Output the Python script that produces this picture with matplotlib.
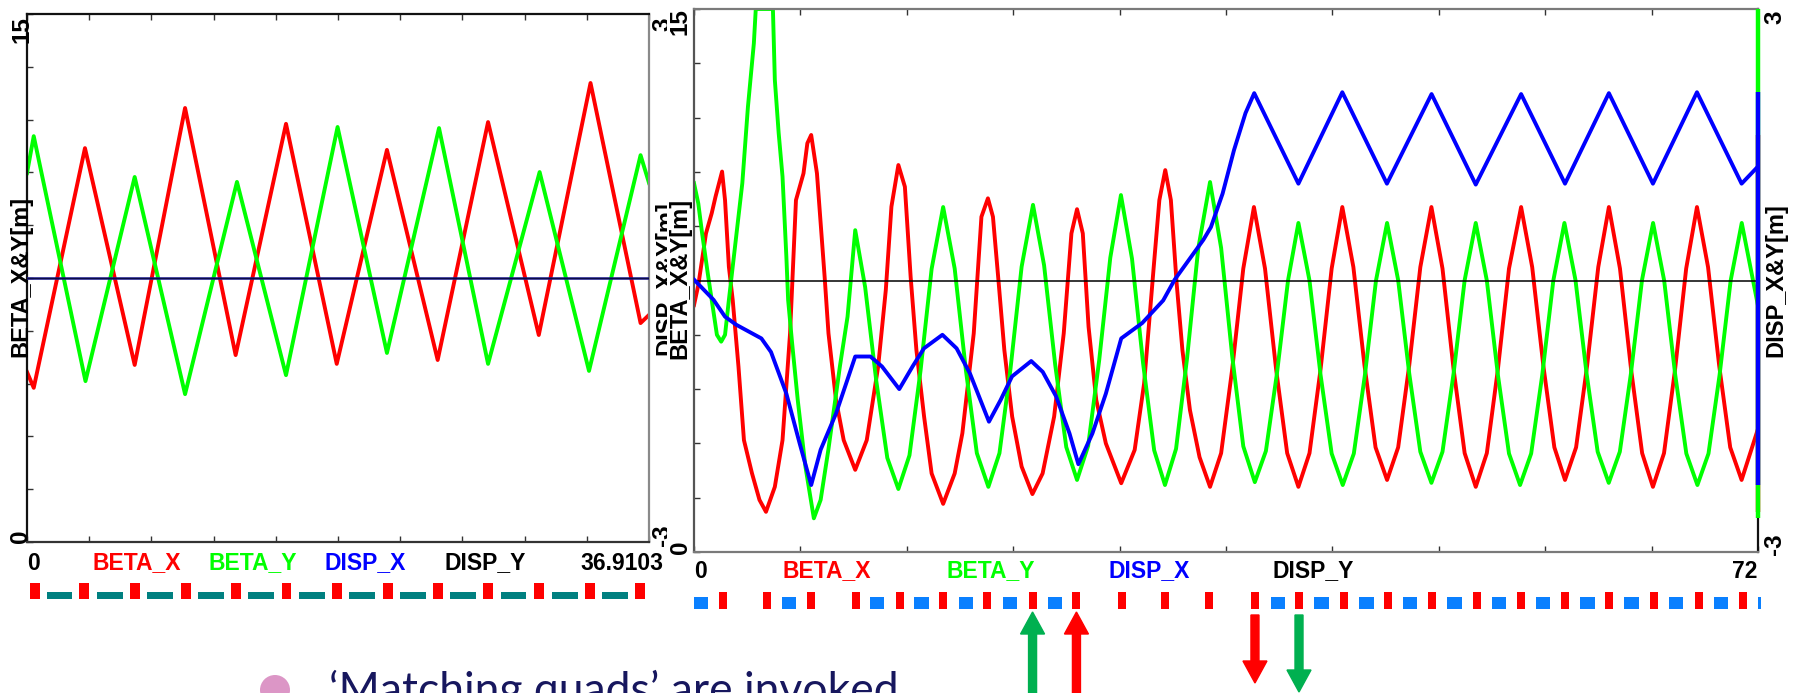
import numpy as np
import matplotlib
matplotlib.use("Agg")
import matplotlib.pyplot as plt
from matplotlib.patches import FancyArrow, Circle, Rectangle
from matplotlib.transforms import IdentityTransform

# ======================= DATA =======================
# ---- left panel: periodic cell ----
left_s_max = 36.9103
left_betax_s = [0.0, 0.4, 3.44, 6.39, 9.38, 12.38, 15.37, 18.38, 21.36, 24.37, 27.36, 30.37, 33.44, 36.41, 36.91]
left_betax = [4.83, 4.38, 11.19, 5.03, 12.33, 5.31, 11.88, 5.06, 11.14, 5.17, 11.93, 5.88, 13.04, 6.22, 6.45]
left_betay_s = [0.0, 0.4, 3.47, 6.39, 9.38, 12.46, 15.37, 18.43, 21.36, 24.45, 27.36, 30.42, 33.35, 36.41, 36.91]
left_betay = [10.48, 11.53, 4.57, 10.37, 4.20, 10.23, 4.74, 11.79, 5.37, 11.76, 5.06, 10.51, 4.86, 10.99, 10.20]
left_disp_s = [0.0, 36.91]
left_dispx = [0.0, 0.0]
left_dispy = [0.0, 0.0]
left_quads = [0.47, 3.41, 6.39, 9.43, 12.40, 15.40, 18.40, 21.42, 24.39, 27.36, 30.38, 33.41, 36.38]
left_bends = [1.93, 4.92, 7.90, 10.92, 13.90, 16.90, 19.90, 22.90, 25.88, 28.87, 31.90, 34.90]

# ---- right panel: matching section ----
right_s_max = 72.0
right_betax_s = [0.0, 0.29, 0.81, 1.20, 1.46, 1.90, 2.10, 2.36, 2.62, 3.01, 3.38, 3.92, 4.43, 4.87,
                 5.47, 5.99, 6.50, 6.90, 7.41, 7.67, 7.93, 8.32, 8.84, 9.10, 9.61, 10.13, 10.91,
                 11.69, 12.46, 12.98, 13.36, 13.83, 14.27, 14.66, 15.05, 15.57, 16.08, 16.86,
                 17.64, 18.16, 18.93, 19.45, 19.89, 20.23, 20.62, 21.00, 21.53, 22.17, 22.90,
                 23.59, 24.37, 25.02, 25.54, 25.92, 26.31, 26.70, 27.22, 27.87, 28.91,
                 29.82, 30.46, 31.11, 31.49, 31.89, 32.27, 32.66, 33.05, 33.56, 34.21, 34.92,
                 35.67, 36.42, 37.17, 37.89, 38.64, 39.39, 40.14, 40.90, 41.65, 42.40, 43.15, 43.87,
                 44.62, 45.37, 46.12, 46.90, 47.65, 48.40, 49.15, 49.90, 50.65, 51.40, 52.15, 52.90,
                 53.65, 54.40, 55.15, 55.97, 56.72, 57.47, 58.22, 58.94, 59.69, 60.44, 61.19, 61.91,
                 62.66, 63.41, 64.16, 64.89, 65.64, 66.39, 67.14, 67.87, 68.62, 69.37, 70.12, 70.89, 72.0]
right_betax = [6.82, 7.37, 8.80, 9.36, 9.82, 10.51, 9.72, 7.88, 6.96, 5.12, 3.09, 2.18, 1.44, 1.11,
               1.80, 3.09, 6.04, 9.72, 10.46, 11.29, 11.52, 10.46, 7.60, 6.04, 4.20, 3.09, 2.27,
               3.09, 5.12, 7.24, 9.54, 10.69, 10.09, 7.60, 5.58, 3.74, 2.17, 1.33,
               2.17, 3.28, 6.04, 9.26, 9.77, 9.26, 7.42, 5.58, 3.74, 2.36, 1.60,
               2.17, 3.74, 6.04, 8.80, 9.47, 8.80, 6.22, 4.20, 3.00, 1.90,
               2.82, 4.66, 7.88, 9.72, 10.55, 9.72, 7.42, 5.58, 3.92, 2.62, 1.80,
               2.73, 5.05, 7.83, 9.53, 7.83, 5.05, 2.73, 1.80, 2.73, 5.05, 7.83, 9.53,
               7.87, 5.16, 2.89, 1.99, 2.89, 5.16, 7.87, 9.53, 7.83, 5.05, 2.73, 1.80,
               2.73, 5.05, 7.83, 9.53, 7.87, 5.16, 2.89, 1.99, 2.89, 5.16, 7.87, 9.53,
               7.83, 5.05, 2.73, 1.80, 2.73, 5.05, 7.83, 9.53, 7.87, 5.16, 2.89, 1.99, 3.40]
right_betay_s = [0.0, 0.29, 0.55, 0.93, 1.20, 1.55, 1.84, 2.10, 2.36, 3.27, 3.65, 4.05, 4.18, 5.34,
                 5.47, 5.73, 5.99, 6.25, 6.37, 6.64, 7.02, 7.54, 8.11, 8.57, 9.09, 9.87, 10.39, 10.91,
                 11.58, 12.33, 13.08, 13.83, 14.58, 15.33, 16.08, 16.86, 17.64, 18.39, 19.14, 19.92,
                 20.67, 21.42, 22.17, 22.94, 23.69, 24.44, 25.19, 25.92, 26.67, 27.42, 28.17, 28.89,
                 29.64, 30.39, 31.14, 31.87, 32.62, 33.37, 34.12, 34.92, 35.67, 36.42, 37.17, 37.95,
                 38.70, 39.45, 40.20, 40.90, 41.65, 42.40, 43.15, 43.90, 44.65, 45.40, 46.15, 46.90,
                 47.65, 48.40, 49.15, 49.90, 50.65, 51.40, 52.15, 52.90, 53.65, 54.40, 55.15, 55.90,
                 56.65, 57.40, 58.15, 58.90, 59.65, 60.40, 61.15, 61.90, 62.65, 63.40, 64.15, 64.90,
                 65.65, 66.40, 67.15, 67.90, 68.65, 69.40, 70.15, 70.90, 72.0]
right_betay = [10.19, 9.63, 8.80, 7.70, 6.96, 6.00, 5.81, 6.00, 6.96, 10.19, 12.30, 14.05, 15.0, 15.0,
               13.04, 11.57, 10.37, 8.16, 6.96, 5.77, 4.20, 2.36, 0.93, 1.44, 2.82, 5.12, 6.50, 8.89,
               7.32, 4.74, 2.60, 1.74, 2.67, 5.01, 7.82, 9.53, 7.83, 5.05, 2.73, 1.80,
               2.73, 5.07, 7.88, 9.59, 7.92, 5.18, 2.90, 1.99, 2.93, 5.30, 8.13, 9.86,
               8.10, 5.21, 2.81, 1.85, 2.85, 5.37, 8.38, 10.22, 8.40, 5.41, 2.92, 1.93,
               2.79, 4.94, 7.51, 9.09, 7.50, 4.89, 2.72, 1.85, 2.72, 4.89, 7.50, 9.09,
               7.51, 4.93, 2.77, 1.91, 2.77, 4.93, 7.51, 9.09, 7.50, 4.89, 2.72, 1.85,
               2.72, 4.89, 7.50, 9.09, 7.51, 4.93, 2.77, 1.91, 2.77, 4.93, 7.51, 9.09,
               7.50, 4.89, 2.72, 1.85, 2.72, 4.89, 7.50, 9.09, 6.80]
right_dispx_s = [0.0, 1.33, 2.10, 2.87, 4.56, 5.21, 6.25, 7.15, 7.93, 8.57, 9.61, 10.91, 11.94, 12.72,
                 13.89, 14.79, 15.56, 16.81, 17.77, 18.68, 19.96, 20.75, 21.52, 22.82, 23.60, 24.50,
                 25.41, 26.01, 26.96, 27.87, 28.91, 30.33, 31.75, 32.53, 34.47, 34.98, 35.77, 36.54,
                 37.32, 37.91, 40.90, 43.87, 46.89, 49.91, 52.90, 55.97, 58.94, 61.91, 64.89, 67.87,
                 70.89, 72.0]
right_dispx = [0.01, -0.215, -0.40, -0.49, -0.64, -0.79, -1.25, -1.80, -2.26, -1.87, -1.47, -0.84, -0.84, -0.95,
               -1.20, -0.95, -0.75, -0.60, -0.75, -1.03, -1.56, -1.32, -1.06, -0.89, -1.01, -1.28,
               -1.69, -2.03, -1.69, -1.25, -0.64, -0.47, -0.22, 0.01, 0.45, 0.59, 0.96, 1.44,
               1.85, 2.07, 1.07, 2.08, 1.07, 2.06, 1.06, 2.06, 1.07, 2.07, 1.07, 2.08,
               1.07, 1.26]
right_disp_s = [0.0, 72.0]
right_dispy = [0.0, 0.0]
right_quads = [1.96, 4.94, 7.92, 10.93, 13.91, 16.88, 19.86, 22.91, 25.88, 28.93, 31.87, 34.85,
               37.96, 40.94, 43.99, 46.93, 49.97, 52.98, 55.96, 58.94, 61.92, 64.96, 67.98, 70.99]
right_bends = [0.44, 6.43, 12.38, 15.40, 18.41, 21.38, 24.43, 39.52, 42.46, 45.51, 48.45, 51.46,
               54.47, 57.45, 60.46, 63.44, 66.45, 69.50, 72.5]
matching_quads = [22.91, 25.88, 37.96, 40.94]
matching_colors = ["#00b050", "#ff0000", "#ff0000", "#00b050"]
matching_dirs = ["up", "up", "down", "down"]

curve_names = ["BETA_X", "BETA_Y", "DISP_X", "DISP_Y"]
beta_label = "BETA_X&Y[m]"
disp_label = "DISP_X&Y[m]"
beta_lim = (0, 15)
disp_lim = (-3, 3)
caption = "\u2018Matching quads\u2019 are invoked"

# ======================= STYLE =======================
W, H, DPI = 1798, 693, 100
C_BX, C_BY, C_DX, C_DY = "#ff0000", "#00ff00", "#0000ff", "#000000"
C_TEAL, C_BEND = "#008080", "#0a80ff"
FONT = "Liberation Sans"
LW = 2.8
TICK_FS = 17.5
LAB_FS = 17
ROW_FS = 16.5

def rect(x0, y0, x1, y1):
    return [x0 / W, 1 - y1 / H, (x1 - x0) / W, (y1 - y0) / H]

def fxy(x, y):
    return x / W, 1 - y / H

fig = plt.figure(figsize=(W / DPI, H / DPI), dpi=DPI)
fig.patch.set_facecolor("white")

def style_axes(ax, xmax, spine_cols):
    ax.set_xlim(0, xmax)
    ax.set_ylim(*beta_lim)
    ax.set_xticks(np.linspace(0, xmax, 11))
    ax.set_yticks(np.linspace(beta_lim[0], beta_lim[1], 11))
    ax.tick_params(which="both", direction="in", top=True, right=True, bottom=True, left=True,
                   labelleft=False, labelbottom=False, length=4.5, width=1.0, color="#333333")
    for k, c in spine_cols.items():
        ax.spines[k].set_color(c)
        ax.spines[k].set_linewidth(1.6)

# ---------- left panel ----------
axL = fig.add_axes(rect(27, 14, 649, 542), zorder=1)
style_axes(axL, left_s_max, {"top": "#111111", "left": "#111111", "bottom": "#333333", "right": "#8a8a8a"})
axL.plot(left_betax_s, left_betax, color=C_BX, lw=LW, solid_joinstyle="round")
axL.plot(left_betay_s, left_betay, color=C_BY, lw=LW, solid_joinstyle="round")
axL2 = axL.twinx()
axL2.set_zorder(1.5)
axL2.set_ylim(*disp_lim)
axL2.set_yticks([])
for sp in axL2.spines.values():
    sp.set_visible(False)
axL2.plot(left_disp_s, left_dispx, color="#1c1c9c", lw=1.8)
axL2.plot(left_disp_s, left_dispy, color=C_DY, lw=1.0, alpha=0.55)

bold = dict(family=FONT, fontweight="bold")
# left panel rotated tick labels & axis labels
fig.text(*fxy(22.5, 29.5), f"{beta_lim[1]:g}", rotation=90, ha="center", va="center", fontsize=TICK_FS, **bold)
fig.text(*fxy(20, 536), f"{beta_lim[0]:g}", rotation=90, ha="center", va="center", fontsize=TICK_FS, **bold)
fig.text(*fxy(21, 276), beta_label, rotation=90, ha="center", va="center", fontsize=LAB_FS, **bold)
fig.text(*fxy(663, 24), f"{disp_lim[1]:g}", rotation=90, ha="center", va="center", fontsize=TICK_FS, **bold, zorder=1)
fig.text(*fxy(663, 535), f"{disp_lim[0]:g}", rotation=90, ha="center", va="center", fontsize=TICK_FS, **bold, zorder=1)
fig.text(*fxy(666, 278), disp_label, rotation=90, ha="center", va="center", fontsize=LAB_FS, **bold, zorder=1)

# left panel bottom legend row
fig.text(*fxy(27, 563), f"{0:g}", ha="left", va="center", fontsize=ROW_FS, **bold)
for name, col, x in zip(curve_names, [C_BX, C_BY, C_DX, C_DY], [92, 209, 325, 445]):
    fig.text(*fxy(x, 563), name, ha="left", va="center", fontsize=ROW_FS, color=col, **bold)
fig.text(*fxy(663, 563), f"{left_s_max:g}", ha="right", va="center", fontsize=ROW_FS, **bold)

# left magnet strip
axLS = fig.add_axes(rect(27, 583, 649, 599))
axLS.set_xlim(0, left_s_max)
axLS.set_ylim(0, 1)
axLS.axis("off")
axLS.bar(left_quads, 1.0, width=0.59, color=C_BX, align="center")
axLS.bar(left_bends, 7 / 16, width=1.54, color=C_TEAL, align="center")

# ---------- cover (right panel overlays the left one) ----------
fig.add_artist(Rectangle((667 / W, 1 - 560 / H), 1 - 667 / W, 560 / H, transform=fig.transFigure,
                         facecolor="white", edgecolor="none", zorder=2))

# ---------- right panel ----------
axR = fig.add_axes(rect(694, 9, 1758, 552), zorder=3)
style_axes(axR, right_s_max, {"top": "#7a7a7a", "left": "#555555", "bottom": "#7a7a7a", "right": "#111111"})
axR.plot(right_betax_s, right_betax, color=C_BX, lw=LW, solid_joinstyle="round")
axR.plot(right_betay_s, right_betay, color=C_BY, lw=LW, solid_joinstyle="round")
axR2 = axR.twinx()
axR2.set_zorder(4)
axR2.set_ylim(*disp_lim)
axR2.set_yticks([])
for sp in axR2.spines.values():
    sp.set_visible(False)
axR2.plot(right_disp_s, right_dispy, color=C_DY, lw=1.1)
axR2.plot(right_dispx_s, right_dispx, color=C_DX, lw=LW, solid_joinstyle="round")

# range indicators on the right spine (from the data ranges)
def frac(v, lim):
    return (v - lim[0]) / (lim[1] - lim[0])
for ys, col in [(right_betax, C_BX), (right_betay, C_BY)]:
    axR.plot([1, 1], [frac(min(ys), beta_lim), frac(max(ys), beta_lim)], transform=axR.transAxes,
             color=col, lw=3.2, clip_on=False, zorder=10, solid_capstyle="butt")
axR2.plot([1, 1], [frac(min(right_dispx), disp_lim), frac(max(right_dispx), disp_lim)],
          transform=axR2.transAxes, color=C_DX, lw=3.2, clip_on=False, zorder=10, solid_capstyle="butt")

fig.text(*fxy(680, 21.5), f"{beta_lim[1]:g}", rotation=90, ha="center", va="center", fontsize=TICK_FS, **bold, zorder=5)
fig.text(*fxy(680, 547), f"{beta_lim[0]:g}", rotation=90, ha="center", va="center", fontsize=TICK_FS, **bold, zorder=5)
fig.text(*fxy(680, 278), beta_label, rotation=90, ha="center", va="center", fontsize=LAB_FS, **bold, zorder=5)
fig.text(*fxy(1775, 17), f"{disp_lim[1]:g}", rotation=90, ha="center", va="center", fontsize=TICK_FS, **bold, zorder=5)
fig.text(*fxy(1775, 544), f"{disp_lim[0]:g}", rotation=90, ha="center", va="center", fontsize=TICK_FS, **bold, zorder=5)
fig.text(*fxy(1776, 280), disp_label, rotation=90, ha="center", va="center", fontsize=LAB_FS, **bold, zorder=5)

fig.text(*fxy(694, 571), f"{0:g}", ha="left", va="center", fontsize=ROW_FS, **bold, zorder=5)
for name, col, x in zip(curve_names, [C_BX, C_BY, C_DX, C_DY], [783, 946, 1109, 1273]):
    fig.text(*fxy(x, 571), name, ha="left", va="center", fontsize=ROW_FS, color=col, **bold, zorder=5)
fig.text(*fxy(1757, 571), f"{right_s_max:g}", ha="right", va="center", fontsize=ROW_FS, **bold, zorder=5)

# right magnet strip
strip_x1 = 1761
axRS = fig.add_axes(rect(694, 592, strip_x1, 609), zorder=5)
axRS.set_xlim(0, right_s_max * (strip_x1 - 694) / (1758 - 694))
axRS.set_ylim(0, 1)
axRS.axis("off")
axRS.bar(right_quads, 1.0, width=0.54, color=C_BX, align="center")
axRS.bar(right_bends, 12 / 17, width=0.98, color=C_BEND, align="center")

# matching-quad arrows
for s, col, d in zip(matching_quads, matching_colors, matching_dirs):
    x = axRS.transData.transform((s, 0))[0]
    if d == "up":
        y0, y1 = H - 700, H - 612
    else:
        y0, y1 = H - 615, H - (683 if col == "#ff0000" else 692)
    fig.add_artist(FancyArrow(x, y0, 0, y1 - y0, width=8, head_width=24, head_length=22,
                              length_includes_head=True, color=col, transform=IdentityTransform(),
                              zorder=6))

# bullet + caption
fig.add_artist(Circle((275, H - 690), 15, transform=IdentityTransform(), facecolor="#dc96c6",
                      edgecolor="none", zorder=6))
fig.text(329 / W, 1 - 704 / H, caption, family="Lato", fontsize=32, color="#17175e",
         ha="left", va="baseline", zorder=6)

fig.savefig("out.png", dpi=DPI)
